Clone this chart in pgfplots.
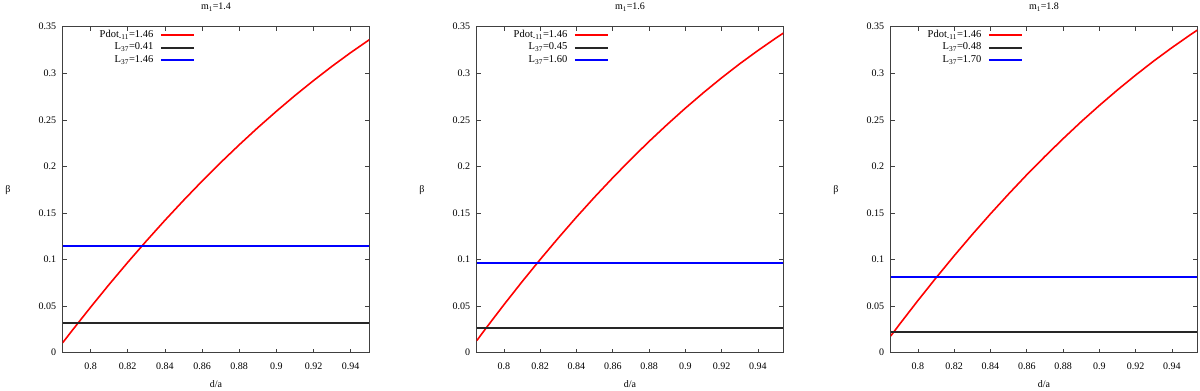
\documentclass[border=0pt]{standalone}
\usepackage{fontspec}
\setmainfont{Liberation Serif}
\usepackage{pgfplots}
\usepackage{pgfplotstable}
\pgfplotsset{compat=1.18}

% red curves, one per panel (d/a, beta)
\pgfplotstableread{
x y
0.785 0.0107
0.79 0.0236
0.80 0.0488
0.81 0.0733
0.82 0.0970
0.83 0.1199
0.84 0.1421
0.85 0.1635
0.86 0.1842
0.87 0.2041
0.88 0.2232
0.89 0.2416
0.90 0.2592
0.91 0.2761
0.92 0.2922
0.93 0.3076
0.94 0.3222
0.95 0.3360
}\redA
\pgfplotstableread{
x y
0.785 0.0129
0.79 0.0260
0.80 0.0515
0.81 0.0762
0.82 0.1001
0.83 0.1232
0.84 0.1456
0.85 0.1671
0.86 0.1878
0.87 0.2077
0.88 0.2268
0.89 0.2450
0.90 0.2625
0.91 0.2792
0.92 0.2951
0.93 0.3102
0.94 0.3244
0.95 0.3379
0.954 0.3431
}\redB
\pgfplotstableread{
x y
0.785 0.0179
0.79 0.0308
0.80 0.0560
0.81 0.0804
0.82 0.1041
0.83 0.1270
0.84 0.1491
0.85 0.1704
0.86 0.1910
0.87 0.2107
0.88 0.2297
0.89 0.2480
0.90 0.2654
0.91 0.2821
0.92 0.2980
0.93 0.3132
0.94 0.3275
0.95 0.3411
0.954 0.3463
}\redC

\pgfplotsset{panel/.style={
  scale only axis, width=306.6pt, height=326pt,
  xmin=0.785, ymin=0, ymax=0.35,
  xtick={0.8,0.82,0.84,0.86,0.88,0.9,0.92,0.94},
  ytick={0,0.05,0.1,0.15,0.2,0.25,0.3,0.35},
  tick align=inside, major tick length=4pt,
  axis line style={black!75, line width=0.8pt},
  every tick/.style={black!75, line width=0.6pt},
  scaled ticks=false,
  /pgf/number format/assume math mode=true,
  tick label style={font=\fontsize{10}{12}\selectfont},
  xticklabel style={/pgf/number format/fixed, /pgf/number format/precision=2, yshift=-7pt},
  yticklabel style={/pgf/number format/fixed, /pgf/number format/precision=2, xshift=-3pt},
  xlabel={d/a}, ylabel={β},
  label style={font=\fontsize{10}{12}\selectfont},
  xlabel style={at={(axis description cs:0.5,0)}, anchor=base, yshift=-35pt},
  ylabel style={rotate=-90, at={(axis description cs:0,0.5)}, anchor=center, xshift=-54.7pt},
  title style={at={(axis description cs:0.5,1)}, anchor=base, yshift=11pt, font=\fontsize{10}{12}\selectfont},
  legend style={draw=none, fill=none, at={(axis description cs:0.4315,1)}, anchor=north east,
    yshift=-2pt, inner sep=0pt, column sep=5pt, font=\fontsize{10.5}{12}\selectfont,
    nodes={text height=7pt, text depth=2.5pt, inner sep=1.5pt}},
  legend cell align=right, legend plot pos=right,
  legend image code/.code={\draw[#1] (0pt,0pt) -- (33pt,0pt);},
}}

\begin{document}
\begin{tikzpicture}
\useasboundingbox (-62.7pt,-38.3pt) rectangle (1137.3pt,352.7pt);

\begin{axis}[panel, at={(0pt,0pt)}, xmax=0.95, title={m\textsubscript{1}=1.4}]
\addplot[red, line width=1.6pt] table {\redA};
\addlegendentry{Pdot\textsubscript{-11}=1.46}
\addplot[black!85, line width=2pt] coordinates {(0.785,0.0318) (0.95,0.0318)};
\addlegendentry{L\textsubscript{37}=0.41}
\addplot[blue, line width=1.8pt] coordinates {(0.785,0.1146) (0.95,0.1146)};
\addlegendentry{L\textsubscript{37}=1.46}
\end{axis}

\begin{axis}[panel, at={(414pt,0pt)}, xmax=0.954, title={m\textsubscript{1}=1.6}]
\addplot[red, line width=1.6pt] table {\redB};
\addlegendentry{Pdot\textsubscript{-11}=1.46}
\addplot[black!85, line width=2pt] coordinates {(0.785,0.0265) (0.954,0.0265)};
\addlegendentry{L\textsubscript{37}=0.45}
\addplot[blue, line width=1.8pt] coordinates {(0.785,0.0966) (0.954,0.0966)};
\addlegendentry{L\textsubscript{37}=1.60}
\end{axis}

\begin{axis}[panel, at={(828pt,0pt)}, xmax=0.954, title={m\textsubscript{1}=1.8}]
\addplot[red, line width=1.6pt] table {\redC};
\addlegendentry{Pdot\textsubscript{-11}=1.46}
\addplot[black!85, line width=2pt] coordinates {(0.785,0.0225) (0.954,0.0225)};
\addlegendentry{L\textsubscript{37}=0.48}
\addplot[blue, line width=1.8pt] coordinates {(0.785,0.081) (0.954,0.081)};
\addlegendentry{L\textsubscript{37}=1.70}
\end{axis}
\end{tikzpicture}
\end{document}
